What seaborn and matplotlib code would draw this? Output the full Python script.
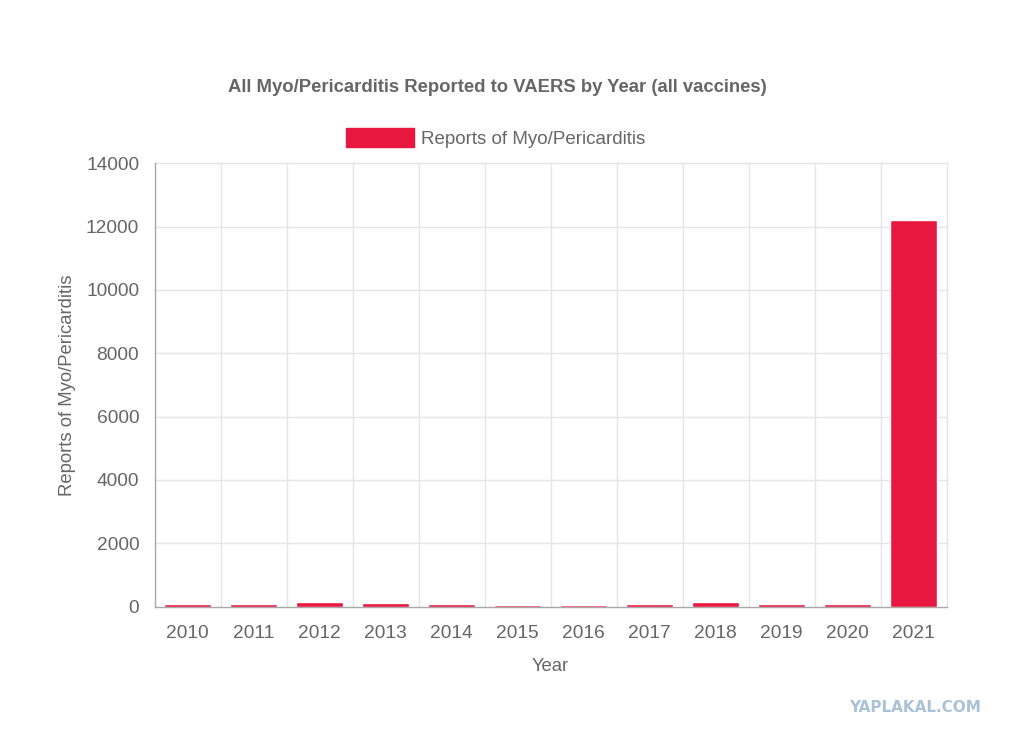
import matplotlib
matplotlib.use("Agg")
import matplotlib.pyplot as plt
import seaborn as sns
import numpy as np
from matplotlib.patches import Patch

years = ["2010", "2011", "2012", "2013", "2014", "2015", "2016", "2017", "2018", "2019", "2020", "2021"]
reports = [90, 85, 140, 125, 90, 45, 60, 90, 150, 90, 80, 12200]
y_ticks = [0, 2000, 4000, 6000, 8000, 10000, 12000, 14000]

title = "All Myo/Pericarditis Reported to VAERS by Year (all vaccines)"
series_name = "Reports of Myo/Pericarditis"
bar_color = "#E8173F"
text_color = "#666666"
grid_color = "#E5E5E5"
axis_color = "#A8A8A8"

sns.set_style("white")
plt.rcParams['font.family'] = ['Liberation Sans', 'DejaVu Sans']

fig = plt.figure(figsize=(10.09, 7.38), dpi=100)
W, H = 1009, 738
left, right, top, bottom = 154.5, 946.5, 163.3, 606.5
ax = fig.add_axes([left / W, 1 - bottom / H, (right - left) / W, (bottom - top) / H])

sns.barplot(x=years, y=reports, color=bar_color, saturation=1, width=0.727, ax=ax, zorder=3)

ax.set_xlim(-0.5, len(years) - 0.5)
ax.set_ylim(0, 14000)
ax.set_yticks(y_ticks)
ax.set_yticklabels([str(v) for v in y_ticks])

# horizontal grid
ax.grid(False)
for v in y_ticks[1:]:
    ax.axhline(v, color=grid_color, lw=1, zorder=1, clip_on=False)
# vertical grid at category boundaries
bounds = np.arange(-0.5, len(years), 1.0)
ax.set_xticks(bounds, minor=True)
for b in bounds[1:]:
    ax.axvline(b, color=grid_color, lw=1, zorder=1, clip_on=False)

for s in ["top", "right"]:
    ax.spines[s].set_visible(False)
ax.spines["left"].set_color(axis_color)
ax.spines["bottom"].set_color(axis_color)
ax.spines["left"].set_linewidth(1)
ax.spines["bottom"].set_linewidth(1)

ax.tick_params(axis="y", which="major", length=10, color=grid_color, width=1, pad=1,
               labelsize=13.8, labelcolor=text_color)
ax.tick_params(axis="x", which="major", length=0, pad=13, labelsize=13.8, labelcolor=text_color)
ax.tick_params(axis="x", which="minor", length=10, color=grid_color, width=1)

ax.set_xlabel("Year", fontsize=13.3, color=text_color, labelpad=12)
ax.set_ylabel(series_name, fontsize=13.3, color=text_color, labelpad=7)

fig.text(497.5 / W, 1 - 88 / H, title, ha="center", va="center", fontsize=13.3,
         fontweight="bold", color=text_color)

handle = Patch(facecolor=bar_color, edgecolor=bar_color)
fig.legend([handle], [series_name], loc="center", bbox_to_anchor=(496 / W, 1 - 138 / H),
           frameon=False, fontsize=13.5, labelcolor=text_color, handlelength=3.6,
           handleheight=1.15, handletextpad=0.4)

fig.text(915.5 / W, 1 - 708 / H, "YAPLAKAL.COM", ha="center", va="center", fontsize=11,
         fontweight="bold", color="#A9C3D6", family=["DejaVu Sans"])

fig.savefig("out.png", dpi=100)
